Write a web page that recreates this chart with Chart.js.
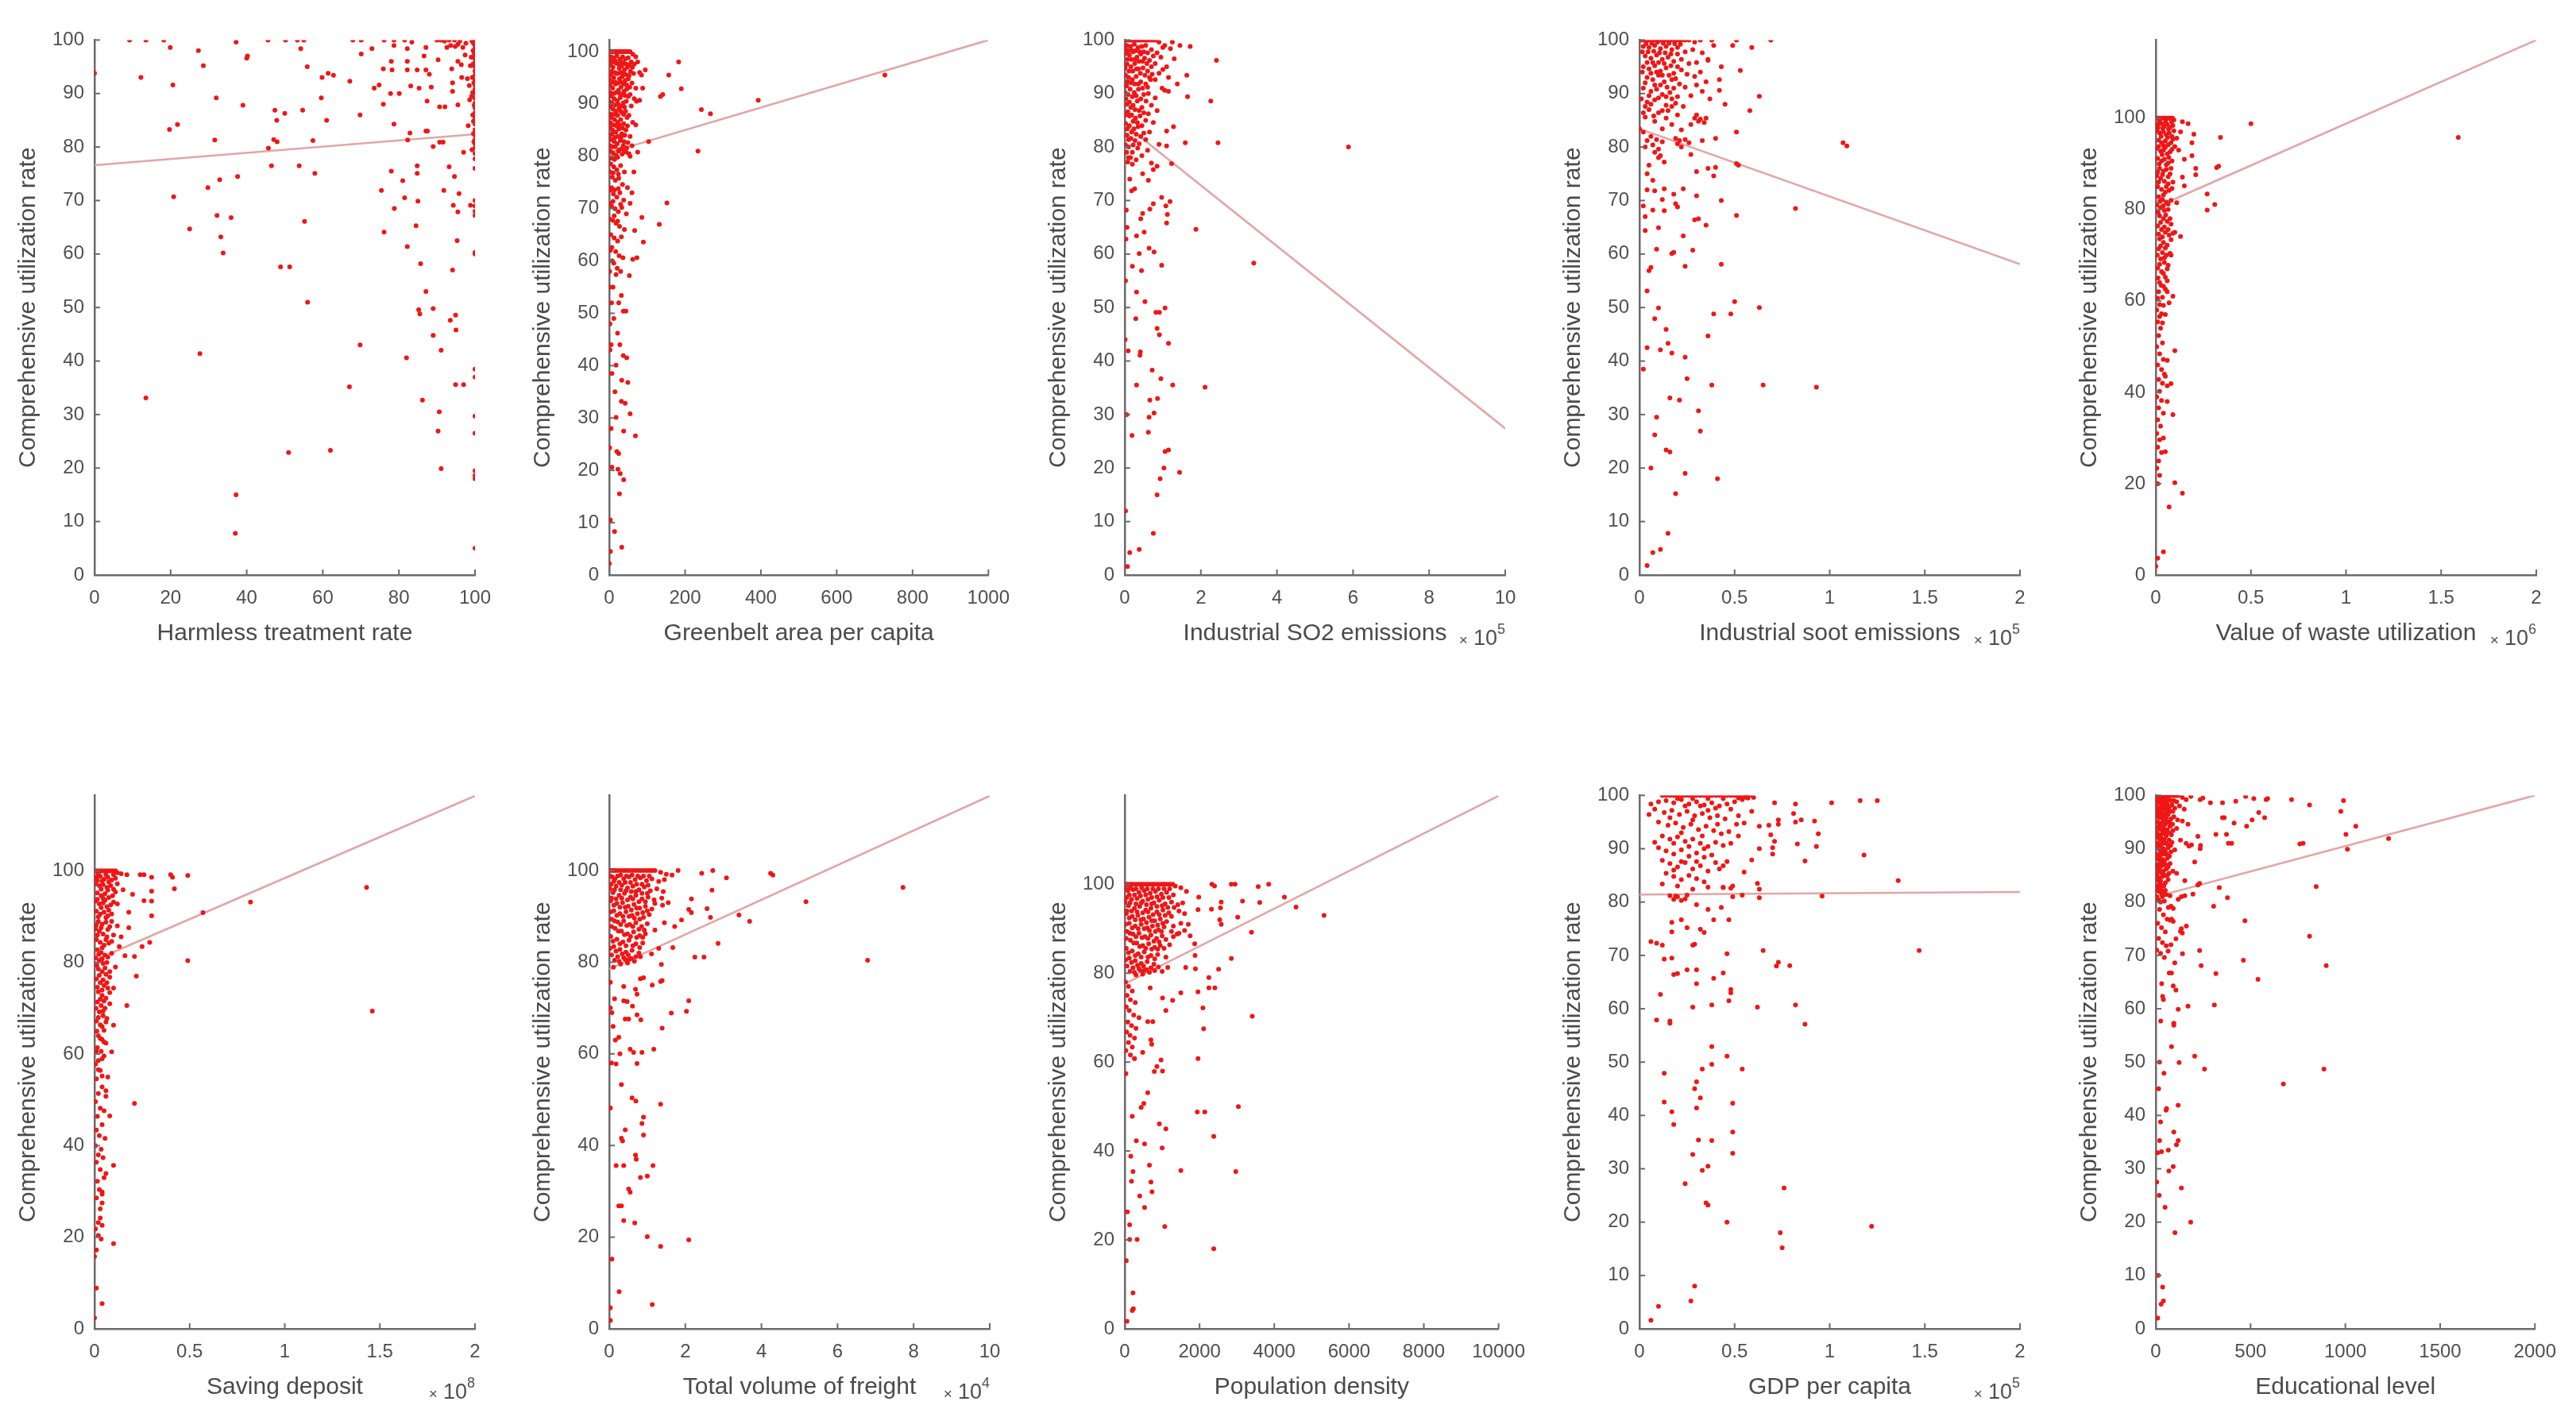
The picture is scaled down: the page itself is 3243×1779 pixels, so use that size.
<!DOCTYPE html>
<html><head><meta charset="utf-8">
<script src="https://cdn.jsdelivr.net/npm/chart.js@4.4.1/dist/chart.umd.min.js"></script>
<style>
html,body{margin:0;padding:0;background:#fff;width:3243px;height:1779px;overflow:hidden;}
canvas{position:absolute;filter:blur(0.7px);}
</style></head><body>
<script>
// ---------------- DATA ----------------
const yLabel = 'Comprehensive utilization rate';
const xTitles = ['Harmless treatment rate','Greenbelt area per capita','Industrial SO2 emissions','Industrial soot emissions','Value of waste utilization','Saving deposit','Total volume of freight','Population density','GDP per capita','Educational level'];
const xExponents = [null,null,'5','5','6','8','4',null,'5',null];
const xMaxes = [100,1000,10,2,2,2,10,10000,2,2000];
const yMaxes = [100,102.2,100,100,117.1,116.5,116.4,120,100,100];
const xTicksList = [
  [0,20,40,60,80,100],[0,200,400,600,800,1000],[0,2,4,6,8,10],[0,0.5,1,1.5,2],[0,0.5,1,1.5,2],
  [0,0.5,1,1.5,2],[0,2,4,6,8,10],[0,2000,4000,6000,8000,10000],[0,0.5,1,1.5,2],[0,500,1000,1500,2000]];
const yTicks10 = [0,10,20,30,40,50,60,70,80,90,100];
const yTicks20 = [0,20,40,60,80,100];
const yTicksList = [yTicks10,yTicks10,yTicks10,yTicks10,yTicks20,yTicks20,yTicks20,yTicks20,yTicks10,yTicks10];

// regression lines (endpoints of the fitted line)
const fitHarmless = [[0,76.6],[100,82.4]];
const fitGreenbelt = [[0,80.7],[1000,102.2]];
const fitSO2 = [[0,84.2],[10,27.4]];
const fitSoot = [[0,83.4],[2,58.1]];
const fitWaste = [[0,80.5],[2,117.1]];
const fitSaving = [[0,80.5],[2,116.4]];
const fitFreight = [[0,78.5],[10,116.3]];
const fitDensity = [[0,77.6],[10000,119.9]];
const fitGDP = [[0,81.4],[2,81.9]];
const fitEdu = [[0,81],[2000,100]];

const ptsHarmless = [[0,93.8],[9.2,100],[13.5,100],[12.2,93],[18.2,100],[19.9,98.6],[20.6,91.6],[19.7,83.3],[21.8,84.2],[20.8,70.7],[27.3,98],[28.6,95.2],[25,64.7],[27.7,41.4],[29.8,72.4],[31.6,81.3],[32,89.2],[32.2,67.2],[32.9,73.9],[33.2,63.2],[33.8,60.2],[35.9,66.8],[13.5,33.1],[37.2,99.6],[40.2,97],[40,96.6],[39,87.8],[37.6,74.5],[37.2,15],[37,7.8],[45.6,100],[50.2,100],[53.3,100],[55,100],[54.2,98.4],[55.9,95],[47.4,86.9],[50,86.3],[54.7,86.9],[47.9,85],[47.1,81.4],[48,81],[45.7,79.8],[46.5,76.5],[53.8,76.5],[57.4,81.2],[57.9,75.1],[55.2,66.1],[48.9,57.6],[51.3,57.6],[56,51],[51,22.9],[62,23.3],[59.6,89.2],[59.8,93],[61.4,93.8],[62.8,93.4],[61,85],[67.1,92.3],[67.9,100],[70.1,100],[70.1,97.4],[69.8,86],[72.9,98.4],[67,35.2],[69.8,43],[73.5,91],[74.8,91.6],[75.9,94.6],[75.9,88],[76.1,100],[75.4,71.9],[76.1,64.1],[78,96],[78.2,94.4],[77.8,90],[78.7,100],[78.7,99],[78.7,84.3],[78,75.5],[78.8,68.5],[80.1,90],[81.5,100],[82.2,98.4],[82.2,96],[82.2,94.4],[83.1,91.4],[82.9,82.6],[82.3,81.3],[81,73.7],[81.5,70.5],[82.2,61.4],[82,40.6],[83.4,99.6],[84.8,94.4],[85.3,91],[84.8,76.5],[84.8,75.1],[85,69.9],[84.5,65.3],[85.7,58.2],[85.2,49.6],[85.5,48.8],[86.2,32.7],[86.6,97],[87.1,98.6],[87.1,94.4],[87.4,88.6],[87.1,83],[87.5,83],[88,93.6],[88.5,91.2],[87.1,53],[89,49.8],[89,44.8],[89,80.1],[90,100],[91,100],[92,99.8],[93.2,100],[94.6,100],[90.3,96.3],[90.7,87.5],[92.1,87.5],[90.7,80.9],[91.6,80.9],[90.3,26.9],[90.6,30.5],[91.1,19.9],[91.1,42],[91.8,71.9],[93.2,76.3],[93.5,47.6],[94.1,57],[93.9,94.6],[94.1,92],[94.1,90.4],[94.3,69.1],[94.6,74.5],[94.9,48.6],[95,45.8],[94.9,35.6],[95.5,99.2],[95.5,96],[95.5,87.9],[95.5,67.9],[95.3,62.5],[95.8,71.3],[97,35.6],[96.5,93],[97.4,97.2],[97,79],[98.8,95.2],[98.8,69.1],
[100,100],[100,99.5],[100,99],[100,98.4],[100,97.8],[100,97.2],[100,96.5],[100,95.8],[100,95],[100,94.2],[100,93.4],[100,92.5],[100,91.6],[100,90.8],[100,90],[100,89.1],[100,88.2],[100,87.3],[100,86.4],[100,85.4],[100,84.3],[100,83.2],[100,82.2],[100,81.4],[100,80.6],[100,79.8],[100,78.8],[100,77.8],[100,76],[100,70],[100,69],[100,68],[100,67.2],[100,60.3],[100,60],[100,38.5],[100,37],[100,29.7],[100,26.5],[100,19.5],[100,18.6],[100,18],[100,5],
[99.2,99.8],[99.5,98],[99,96.8],[99.3,93],[98.5,91.5],[99.1,89.5],[98.6,88.8],[99.4,86],[98.2,84],[99.6,82.5],[98,92.8],[96.8,98.6],[97.6,99.4],[96,99.8],[94.8,98.8],[93.6,99],[92.6,98.6],[96.4,95.4],
[99.6,99.4],[99.8,97.5],[99.5,95.5],[99.7,92],[99.4,90.2],[99.8,87.8],[99.6,84.8],[99.7,81],[99.2,79.5]];

const ptsGreenbelt = [[2,100],[8,100],[15,100],[22,100],[30,100],[38,100],[46,100],[55,100],[62,99.5],[70,99],[5,99],[12,98.8],[20,99.2],[28,98.5],[35,99],[42,98.6],[50,98.8],[58,98],[66,97.6],[75,98],[3,97.5],[10,97],[18,97.8],[26,96.8],[33,97.2],[40,96.5],[48,97],[56,96.2],[64,95.8],[80,96],[4,95.5],[12,95],[19,95.8],[27,94.8],[34,95.2],[42,94.5],[50,94.8],[60,94],[70,93],[85,95.5],[2,93.5],[9,93],[16,93.8],[24,92.6],[31,93.2],[39,92.4],[46,92.8],[55,91.8],[66,91],[5,91.5],[13,91],[21,90.6],[29,91.2],[37,90.2],[45,90.5],[58,89.6],[72,90.5],[3,89.5],[10,89],[18,88.6],[26,89.2],[34,88.3],[43,88.6],[52,87.8],[6,87.4],[14,87],[22,86.5],[30,87],[38,86.2],[48,85.8],[62,86.5],[2,85.5],[9,85],[17,84.6],[25,85.2],[33,84.3],[41,84],[55,83.8],[5,83.2],[13,82.8],[21,82.4],[29,83],[37,82],[46,81.6],[52,80.5],[55,80],[3,81],[10,80.6],[18,80.2],[26,81.2],[34,80.4],[44,80.8],
[4,78.5],[12,78],[20,77.4],[30,78.2],[40,77],[8,76],[16,75.4],[25,75.8],[35,74.6],[48,74],[3,73.5],[11,72.8],[20,72.2],[28,73],[38,71.6],[6,70.5],[15,70],[24,69.4],[33,70.2],[45,69],[9,67.8],[18,67.2],[27,66.6],[40,66],[4,65],[13,64.4],[22,63.8],[32,64.6],[7,62.6],[17,61.8],[26,61],[36,60.6],[12,59.6],[21,58.6],[30,58],[18,57.4],
[183,98],[157,95.5],[190,92.9],[135,91.4],[141,91.8],[243,88.9],[267,88.1],[393,90.7],[727,95.5],[234,81],[104,82.8],[152,71.1],[132,67],[86,68.3],[90,63.6],[67,65.8],[73,60.6],[62,60.3],[53,57.2],[95,96.5],[88,93],[80,90.7],[70,86],[75,80.8],[60,82],[65,77],[55,71],[60,73],
[32,53.4],[37,50.4],[44,50.4],[22,46.2],[37,41.9],[46,41.5],[18,40.1],[7,38.5],[33,37.2],[49,36.8],[32,33.2],[42,32.8],[55,30.8],[18,30.1],[38,27.5],[69,26.6],[20,23.6],[25,23.2],[23,20.2],[29,19.4],[38,18.2],[27,15.5],[3,10.5],[14,8.3],[33,5.3],[3,4.5],[0,2.2],[1,24.3],[7,20.6],[2,48],[5,44],[10,55],[2,43],[12,49],[25,52],[15,35],[28,44],[5,28]];
const denseGreenbelt = [[6,100],[12,100],[18,100],[26,100],[34,100],[42,100],[50,100],[1,98.5],[8,98],[16,98.2],[24,97.6],[31,98],[38,97.8],[45,97.6],[53,97.4],[61,97],[7,96.2],[14,96],[22,95.8],[30,96],[37,95.8],[44,95.6],[52,95.4],[1,94.6],[8,94.2],[15,94.2],[23,94],[30,94.2],[38,93.8],[46,93.6],[54,93.2],[1,92.2],[6,92],[12,92],[19,92.2],[27,92],[35,91.8],[42,91.6],[50,91.4],[1,90.4],[7,90.2],[15,89.8],[23,90],[31,89.6],[40,89.4],[1,88],[7,88],[15,88],[22,87.8],[30,88.6],[38,88],[47,87.4],[3,86.4],[11,86],[19,85.8],[27,86],[35,85.4],[44,85],[1,84],[7,84.2],[15,83.6],[23,83.8],[31,83.6],[39,82.8],[2,82],[8,81.8],[16,81.8],[24,81],[32,81.4],[40,81],[49,82.6],[6,79.6],[14,79.4],[22,79.8],[2,77],[10,76.8],[24,76.6],[6,74],[14,73.6],[24,73.8],[2,71],[10,71.4],[30,70.8],[1,68],[13,68.6],[22,67.6],[3,62],[1,58],[8,60],[2,55],[6,52]];

const ptsSO2 = [[0.02,100],[0.1,100],[0.2,100],[0.3,100],[0.4,100],[0.5,100],[0.6,100],[0.75,100],[0.9,99.6],[1.05,99],[0.05,99],[0.15,98.8],[0.25,99.2],[0.35,98.6],[0.45,98.8],[0.55,99],[0.7,98.2],[0.85,97.6],[1.0,98.6],[0.03,97.5],[0.12,97.2],[0.22,97.8],[0.32,96.8],[0.42,97.4],[0.52,96.6],[0.65,96.2],[0.8,95.6],[0.95,96.8],[1.1,95],[0.06,95.5],[0.16,95],[0.26,95.6],[0.36,94.6],[0.48,94.8],[0.6,94.2],[0.72,93.6],[0.9,93.8],[1.0,94.5],[0.02,93.4],[0.1,93],[0.2,92.6],[0.3,93.2],[0.42,92.2],[0.55,91.8],[0.68,92.6],[1.05,90.6],[1.15,90.4],[0.05,91.4],[0.14,90.8],[0.25,90.2],[0.36,90.8],[0.5,89.8],[0.62,90],[0.8,89.2],[0.03,89],[0.12,88.4],[0.22,87.8],[0.33,88.6],[0.45,87.4],[0.7,87.8],[0.85,86.8],[0.08,86.6],[0.18,86],[0.28,85.4],[0.4,85.8],[0.55,85],[0.75,84.6],[0.02,84.4],[0.12,84],[0.24,83.4],[0.35,83.8],[0.5,82.6],[0.65,82.8],[0.06,82.2],[0.16,81.6],[0.27,81.2],[0.38,80.6],[0.55,81.4],[0.9,80.5],[0.02,80.4],[0.1,80],[0.2,79],[0.45,78.4],[0.3,77.6],[0.6,79.4],[0.08,77.2],[0.7,77],
[1.45,99],[1.72,98.8],[2.41,96.2],[1.63,93.4],[1.38,91.8],[1.65,89.4],[2.26,88.6],[1.59,80.8],[2.45,80.8],[5.88,80],[1.28,83.8],[1.1,83],[1.1,80.2],[1.23,76.9],[1.87,64.6],[3.39,58.3],[2.11,35.1],[1.44,19.2],[1.06,23.1],[1.15,23.4],[1.03,20],[0.93,18],[0.85,15],[0.75,7.8],[0.38,4.8],[0.13,4.2],[0.07,1.6],[0.19,26.1],[0.62,26.7],[0.64,29.5],[0.77,30.3],[0.66,32.7],[0.86,33],[0.72,38.3],[0.95,36.7],[1.26,35.5],[0.31,35.5],[0.4,41.1],[0.41,41.7],[0.09,41.9],[1.15,43.3],[0.91,44.9],[0.85,46.1],[0.29,47.9],[0.82,49.1],[0.91,49.1],[1.06,49.9],[0.53,51.1],[0.31,52.9],[0.97,57.9],[0.2,57.7],[0.44,56.9],[0.38,60.1],[0.64,61.1],[0.77,60.4],[0.51,64.1],[0.03,62.8],[0.31,63.4],[0.42,66.6],[0.47,67.6],[0.66,68.4],[0.75,69.4],[1.12,67.4],[1.1,65.8],[1.08,69],[1.19,69.8],[0.97,70.6],[0.18,71.8],[0.26,72.2],[0.13,74],[0.62,73.8],[0.47,75],[0.75,75.8],[0.85,76.4],[0.04,68.2],[0.06,65],[0.1,78],[0.2,76.8],[1.3,96.5],[1.2,98.4],[1.15,93],[0.98,91],[1.25,99.6],[0.02,55],[0.01,44],[0.05,30],[0.02,12]];
const denseSO2 = [[0.07,100],[0.15,100],[0.25,100],[0.35,100],[0.45,100],[0.55,100],[0.68,100],[0.82,100],[0.01,98.4],[0.09,98],[0.19,98],[0.29,98],[0.39,97.8],[0.5,97.8],[0.6,97.6],[0.75,97],[0.07,96.4],[0.17,96.4],[0.27,96.4],[0.37,96],[0.47,96],[0.58,95.6],[0.7,95],[0.01,94.8],[0.11,94.2],[0.21,94.2],[0.31,94.6],[0.41,93.8],[0.53,93.4],[0.65,93],[0.8,92.6],[0.07,92.2],[0.16,92],[0.26,91.8],[0.36,91.8],[0.47,91],[0.6,91.2],[0.01,90.2],[0.09,89.8],[0.2,89.4],[0.3,89.6],[0.42,89],[0.56,88.6],[0.06,88],[0.16,87.4],[0.27,87],[0.38,86.8],[0.5,86.4],[0.62,86.2],[0.01,86],[0.12,85.8],[0.22,84.8],[0.33,84.6],[0.45,84],[0.06,83.4],[0.18,82.8],[0.3,82.4],[0.42,82],[0.1,81.4],[0.22,80.4],[0.34,79.8],[0.05,79],[0.15,78]];

const ptsSoot = [[0.01,100],[0.04,100],[0.07,100],[0.1,100],[0.13,100],[0.16,100],[0.19,100],[0.22,100],[0.26,100],[0.29,99.6],[0.02,98.8],[0.05,98.6],[0.08,99],[0.11,98.4],[0.14,98.8],[0.17,98.2],[0.2,98.6],[0.24,97.8],[0.28,98.2],[0.33,97.6],[0.03,97],[0.06,96.6],[0.09,97.2],[0.12,96.4],[0.15,96.8],[0.18,96],[0.22,96.4],[0.26,95.6],[0.3,95.8],[0.36,96.4],[0.02,95],[0.05,94.6],[0.08,95.2],[0.11,94.2],[0.14,94.8],[0.18,93.8],[0.22,94.4],[0.25,93.6],[0.29,93.2],[0.32,94],[0.04,93],[0.07,92.6],[0.1,93.4],[0.13,92.2],[0.17,92.6],[0.21,91.8],[0.24,91.2],[0.3,91.6],[0.35,92.2],[0.02,91],[0.06,90.4],[0.09,90.8],[0.12,89.8],[0.16,90.2],[0.2,89.4],[0.27,89.6],[0.33,90.4],[0.37,89],[0.01,89],[0.04,88.4],[0.08,88.8],[0.14,87.8],[0.19,88.2],[0.23,87.6],[0.05,87],[0.1,86.4],[0.15,86.8],[0.2,86],[0.29,85.4],[0.3,86],[0.31,84.8],[0.32,85.2],[0.34,84.6],[0.35,85.4],[0.27,84.2],[0.03,85.6],[0.08,84.8],[0.12,83.4],[0.17,84.2],[0.22,83.2],[0.02,82.8],[0.06,82],[0.09,81.4],[0.04,81.2],[0.12,81],[0.19,81.6],[0.2,80.6],[0.21,81.2],[0.22,80],[0.24,81.4],[0.26,80.8],[0.07,80.4],[0.1,79.6],[0.03,80],[0.11,78.4],[0.13,77.2],[0.05,76.6],
[0.69,100],[0.59,98.6],[0.49,99],[0.51,100],[0.32,100],[0.38,100],[0.39,99],[0.53,94.3],[0.43,95],[0.36,96.2],[0.63,89.5],[0.42,90.6],[0.58,86.8],[0.51,82.8],[0.4,81.6],[0.33,81.2],[1.07,80.8],[1.09,80.2],[0.52,76.6],[0.51,76.9],[0.4,76.2],[0.36,76],[0.39,74.6],[0.43,70],[0.51,67.2],[0.82,68.5],[0.3,70.9],[0.29,66.4],[0.31,66.6],[0.35,65.4],[0.28,60.7],[0.43,58.1],[0.24,57.7],[0.23,63.4],[0.17,60.1],[0.18,60.3],[0.09,60.9],[0.06,57.5],[0.05,56.9],[0.04,53.1],[0.5,51.1],[0.63,50],[0.48,48.8],[0.39,48.8],[0.1,49.9],[0.08,47.9],[0.14,45.9],[0.36,44.7],[0.15,43.3],[0.04,42.5],[0.11,42.1],[0.17,41.5],[0.24,40.7],[0.02,38.5],[0.25,36.7],[0.38,35.5],[0.65,35.5],[0.93,35.1],[0.16,33.1],[0.21,32.7],[0.31,30.7],[0.09,29.5],[0.32,26.9],[0.08,26.2],[0.14,23.4],[0.16,23],[0.06,20],[0.24,19],[0.41,18],[0.19,15.2],[0.15,7.8],[0.11,4.8],[0.07,4.2],[0.04,1.8],[0,83.4],[0.13,72.2],[0.08,71.8],[0.12,70.2],[0.13,68.1],[0.18,71.2],[0.19,69.4],[0.07,68.2],[0.02,69],[0.03,67],[0.1,64.9],[0.03,64.4],[0.04,72],[0.08,79],[0.1,78],[0.04,75],[0.07,73.8],[0.23,72.2],[0.2,68.8],[0.42,92.6],[0.45,88],[0.27,78.6],[0.3,75.4]];
const denseSoot = [[0.025,100],[0.055,100],[0.085,100],[0.115,100],[0.145,100],[0.175,100],[0.205,100],[0.24,100],[0.035,99.3],[0.065,99.4],[0.095,99.6],[0.125,99.4],[0.155,99.4],[0.185,99.3],[0.215,99.2],[0.015,97.8],[0.045,97.8],[0.075,97.9],[0.105,97.6],[0.135,97.6],[0.165,97.4],[0.2,97.4],[0.04,95.8],[0.07,95.8],[0.1,95.8],[0.13,95.6],[0.165,95.2],[0.2,95],[0.015,94],[0.06,93.8],[0.09,94],[0.12,93.4],[0.155,93.4],[0.19,92.8],[0.03,92],[0.08,91.6],[0.11,91.6],[0.145,91.2],[0.18,91],[0.05,89.6],[0.1,89.2],[0.14,89.4],[0.17,89],[0.03,87.6],[0.06,88],[0.12,86.8],[0.17,87.6],[0.02,86.4],[0.075,85.8],[0.14,85.4]];

const ptsWaste = [[0.005,100],[0.02,100],[0.035,100],[0.05,100],[0.065,100],[0.08,100],[0.095,99.6],[0.01,98.6],[0.03,98.8],[0.045,98.2],[0.06,98.6],[0.075,98],[0.09,98.4],[0.005,97.2],[0.02,96.8],[0.04,97],[0.055,96.4],[0.07,96.8],[0.085,96],[0.015,95.2],[0.03,94.6],[0.05,95],[0.065,94.2],[0.08,94.6],[0.1,93.8],[0.005,93.4],[0.025,92.8],[0.04,93],[0.06,92.2],[0.075,92.6],[0.01,91.2],[0.03,90.6],[0.045,91],[0.065,90.2],[0.085,90.6],[0.02,89],[0.04,88.4],[0.055,88.8],[0.075,87.8],[0.005,87.4],[0.025,86.8],[0.045,86.2],[0.065,85.6],[0.09,86],[0.01,85],[0.03,84.4],[0.05,83.8],[0.07,84.2],[0.015,82.8],[0.035,82.2],[0.055,81.6],[0.08,82],[0.005,81],[0.025,80.4],[0.045,79.8],[0.065,80],[0.02,78.6],[0.04,78],[0.06,77.4],[0.08,76.8],[0.01,76.4],[0.03,75.6],[0.05,75],[0.07,74.4],[0.09,74.8],[0.02,73.6],[0.04,72.8],[0.06,72.2],[0.015,71.4],[0.035,70.6],[0.055,70],[0.075,70.4],[0.025,69.2],[0.045,68.4],[0.065,67.8],[0.01,67.2],[0.03,66.4],[0.05,65.2],[0.02,64],[0.04,63.2],[0.06,64.4],[0.015,62],[0.035,60.8],[0.02,59.2],[0.005,58],[0.03,57.2],[0.01,55.4],[0.025,54],[0.015,52.4],[0.035,50.8],[0.005,50],[0.02,48.4],[0.04,47.2],[0.01,46],[0.03,45],[0.045,44],[0.015,42.8],[0.035,42],[0.06,41.4],[0.02,40.2],[0.005,39],[0.03,38.2],[0.015,36.6],[0.04,35.4],[0.01,34],[0.025,32.6],[0.005,31],[0.02,29.6],[0.01,28],[0.03,26.8],[0.015,25],[0.005,23.4],[0.02,21.8],[0.01,20],
[0.5,98.8],[1.59,95.8],[0.34,95.8],[0.32,89.2],[0.33,89.5],[0.27,83.4],[0.31,81.1],[0.27,79.9],[0.14,99.2],[0.17,98.8],[0.2,96.5],[0.19,94.6],[0.19,91.8],[0.21,89],[0.21,87.6],[0.14,87.1],[0.15,85.2],[0.11,81.5],[0.13,74.1],[0.1,75],[0.09,61],[0.07,59.6],[0.1,49.1],[0.08,41.9],[0.09,35.1],[0.1,20.2],[0.14,17.9],[0.07,14.9],[0.04,5.1],[0,1.9],[0.01,3.7],[0.12,93],[0.15,91],[0.13,97],[0.11,95.6],[0.08,70],[0.06,62],[0.05,57],[0.06,47],[0.05,43.5],[0.06,38],[0.04,30],[0.05,27]];
const denseWaste = [[0.012,100],[0.028,100],[0.043,100],[0.058,100],[0.073,100],[0.088,100],[0.02,99.3],[0.052,99.2],[0.083,99.2],[0.012,97.9],[0.037,97.8],[0.067,97.6],[0.095,97.2],[0.028,96],[0.062,95.8],[0.04,94],[0.09,95.4],[0.015,93.8],[0.05,93.6],[0.085,93.2],[0.033,92],[0.068,91.4],[0.018,90],[0.055,89.8],[0.08,89],[0.01,88.2],[0.035,87.6],[0.065,87.2],[0.015,86],[0.055,85],[0.085,84.6],[0.04,83.2],[0.022,81.8],[0.065,81.2],[0.04,80.8],[0.012,79.4],[0.052,78.8],[0.075,78],[0.025,77.2],[0.045,76.2],[0.065,75.6],[0.015,74.6],[0.035,74],[0.08,73.4],[0.025,72],[0.05,71.6],[0.008,70],[0.045,69.4],[0.02,68],[0.06,67],[0.04,66],[0.012,65],[0.028,63.4],[0.05,62.6],[0.01,60.6],[0.04,59],[0.02,56.6],[0.035,55.2]];

const ptsSaving = [[0.005,100],[0.02,100],[0.04,100],[0.06,100],[0.08,100],[0.1,100],[0.12,99.6],[0.14,99.4],[0.01,98.6],[0.03,98.8],[0.05,98.2],[0.07,98.6],[0.09,98],[0.11,98.4],[0.005,97.2],[0.025,96.8],[0.045,97],[0.065,96.4],[0.085,96.8],[0.1,96],[0.015,95.2],[0.035,94.6],[0.055,95],[0.075,94.2],[0.095,94.6],[0.005,93.4],[0.025,92.8],[0.045,93],[0.065,92.2],[0.085,92.6],[0.12,92.8],[0.01,91.2],[0.03,90.6],[0.05,91],[0.07,90.2],[0.09,90.6],[0.02,89],[0.04,88.4],[0.06,88.8],[0.08,87.8],[0.005,87.4],[0.025,86.8],[0.045,86.2],[0.065,85.6],[0.1,86],[0.01,85],[0.03,84.4],[0.05,83.8],[0.075,84.2],[0.015,82.8],[0.035,82.2],[0.055,81.6],[0.09,82],[0.005,81],[0.025,80.4],[0.045,79.8],[0.065,80],[0.02,78.6],[0.04,78],[0.06,77.4],[0.08,76.8],[0.01,76.4],[0.03,75.6],[0.05,75],[0.07,74.4],[0.02,73.6],[0.04,72.8],[0.06,72.2],[0.015,71.4],[0.035,70.6],[0.055,70],[0.025,69.2],[0.045,68.4],[0.065,67.8],[0.01,67.2],[0.03,66.4],[0.05,65.2],[0.02,64],[0.04,63.2],[0.06,62.4],[0.015,61.4],[0.035,60.6],[0.05,59.6],[0.02,58.6],[0.005,57.8],[0.03,56.4],[0.01,54.6],[0.04,52.8],[0.02,51.4],[0.06,50.8],[0.005,49.6],[0.03,48.2],[0.05,47.6],[0.015,46.4],[0.04,44.6],[0.01,43.4],[0.025,42.2],[0.055,41.6],[0.005,40],[0.035,39.2],[0.02,38],[0.01,36.4],[0.045,37.4],[0.03,34.8],[0.05,33],[0.015,32.2],[0.025,30.4],[0.04,29.4],[0.01,28.6],[0.03,26.2],[0.02,23.2],[0.04,22.6],[0.005,21.8],[0.035,19.6],[0.01,17.2],
[1.43,96.4],[1.46,69.4],[0.82,93.2],[0.57,90.9],[0.49,99],[0.49,80.4],[0.41,98.6],[0.4,99.2],[0.42,96.1],[0.3,98.6],[0.26,99.2],[0.24,99.2],[0.3,95.6],[0.3,93.4],[0.26,93.5],[0.3,90.2],[0.29,84.4],[0.25,83.5],[0.21,81.3],[0.16,81.5],[0.22,77],[0.13,83.5],[0.17,99.2],[0.18,87.6],[0.18,91],[0.2,94.9],[0.15,95.9],[0.17,70.6],[0.1,66.3],[0.1,74.4],[0.21,49.2],[0.1,35.7],[0.1,18.6],[0.08,46.5],[0.06,33.9],[0.04,29.9],[0.04,27.5],[0.03,24.2],[0.02,20.4],[0,15.8],[0.01,8.9],[0.04,5.5],[0,2.4],[0.12,88],[0.14,85.6],[0.11,79],[0.08,71],[0.09,60.5],[0.07,55],[0.06,52]];
const denseSaving = [[0.015,100],[0.03,100],[0.05,100],[0.07,100],[0.09,100],[0.11,100],[0.02,99.3],[0.06,99.2],[0.1,99.2],[0.015,97.9],[0.04,97.8],[0.075,97.6],[0.12,97.2],[0.035,96],[0.07,95.8],[0.045,94],[0.11,95.4],[0.015,93.8],[0.055,93.6],[0.1,93.2],[0.035,92],[0.075,91.4],[0.02,90],[0.06,89.8],[0.09,89],[0.01,88.2],[0.035,87.6],[0.07,87.2],[0.015,86],[0.06,85],[0.09,84.6],[0.04,83.2],[0.022,81.8],[0.07,81.2],[0.04,80.8],[0.012,79.4],[0.055,78.8],[0.08,78],[0.025,77.2],[0.045,76.2],[0.065,75.6],[0.015,74.6],[0.04,74],[0.08,73.4],[0.03,72],[0.05,71.6],[0.008,70],[0.045,69.4],[0.02,68],[0.06,67],[0.04,66],[0.012,65],[0.03,63.4],[0.05,62.6],[0.01,60.6],[0.04,59],[0.02,56.6],[0.04,55.2]];

const ptsFreight = [[0.03,100],[0.15,100],[0.3,100],[0.45,100],[0.6,100],[0.75,100],[0.9,100],[1.05,100],[1.2,100],[1.35,99.6],[1.5,99.2],[1.65,99],[0.08,98.6],[0.22,98.8],[0.38,98.2],[0.52,98.6],[0.68,98],[0.82,98.4],[0.98,97.8],[1.12,98.2],[1.3,97.6],[1.45,98],[0.05,97],[0.18,96.6],[0.33,96.8],[0.48,96.2],[0.62,96.6],[0.78,95.8],[0.92,96.4],[1.08,95.6],[1.25,96],[1.42,95.4],[0.1,95.2],[0.26,94.6],[0.4,95],[0.56,94.2],[0.7,94.6],[0.86,93.8],[1.02,94.2],[1.18,93.6],[1.38,94],[0.04,93.4],[0.2,92.8],[0.35,93],[0.5,92.2],[0.65,92.6],[0.8,91.8],[0.95,92.2],[1.12,91.6],[1.4,92.4],[0.12,91.2],[0.28,90.6],[0.44,91],[0.6,90.2],[0.74,90.6],[0.9,89.8],[1.05,90.4],[0.06,89.4],[0.22,88.8],[0.38,89],[0.54,88.2],[0.7,88.6],[0.85,87.8],[1.0,88.4],[0.15,87.4],[0.32,86.8],[0.48,86.2],[0.64,86.6],[0.8,85.8],[0.95,86.2],[0.04,85.6],[0.2,85],[0.36,84.4],[0.52,84.8],[0.7,84],[0.88,84.2],[0.12,83.4],[0.28,82.8],[0.44,82.2],[0.6,82.6],[0.78,82],[0.06,81.6],[0.22,81.2],[0.38,81],[0.52,80.6],[0.66,80.2],[0.14,80.4],[0.3,79.6],[0.48,79.8],
[7.72,96.3],[6.79,80.4],[5.17,93.2],[4.24,99.4],[4.3,99],[3.69,88.9],[3.41,90.3],[3.08,98.4],[2.72,100],[2.43,99.4],[2.7,95.7],[2.57,91.7],[2.66,89.8],[2.86,84.1],[2.25,81.1],[2.49,81.1],[2.16,93.8],[2.09,91.5],[2.16,90.8],[1.9,89.2],[1.81,100],[1.72,87.8],[1.67,83.2],[2.09,71.6],[2.03,69.3],[1.63,68.9],[1.39,65.6],[1.17,61],[1.35,49],[2.09,19.4],[1.35,18],[1,20.1],[1.13,5.3],[0.26,8.1],[0.07,15.2],[0.03,4.6],[0.03,1.8],[1.15,35.6],[1,33.3],[0.82,33],[0.67,23.1],[0.38,23.6],[0.25,26.8],[0.32,26.8],[0.51,30.5],[0.55,29.8],[0.38,35.6],[0.18,35.6],[0.69,37.9],[0.71,37],[0.9,42.3],[0.86,44.8],[0.9,46.2],[0.42,43.4],[0.32,41.6],[0.35,41],[0.03,48.2],[0.6,50.4],[0.7,49.7],[0.32,53.3],[0.18,57.8],[0.73,57.9],[0.55,61],[0.64,60.3],[0.86,60.3],[0.16,63],[0.25,63.6],[0.42,67.6],[0.51,67.6],[0.73,68.5],[0.83,67.4],[0.61,70.4],[0.73,73],[0.38,71.6],[0.47,71.4],[0.14,72],[0.69,74.1],[0.38,74.7],[0.9,76.6],[0.82,76.4],[1.13,75],[1.35,75.8],[1.39,76],[1.37,79.5],[1.11,81.8],[0.82,81.2],[0.11,78.9],[0.03,75.6],[0.03,70],[0.07,69],[1.2,87],[1.45,88.6],[1.3,83],[1.55,93],[1.2,92.8],[0.1,66],[0.28,60],[0.06,58]];
const denseFreight = [[0.1,100],[0.22,100],[0.38,100],[0.52,100],[0.68,100],[0.82,100],[0.98,100],[1.12,100],[0.02,98.8],[0.15,98.2],[0.3,99],[0.45,98.8],[0.6,99],[0.75,98.8],[0.9,98.8],[1.05,98.8],[0.12,97.6],[0.26,97.4],[0.42,97.4],[0.56,97.4],[0.72,97],[0.86,97],[1.02,96.8],[0.02,96],[0.14,95.8],[0.3,95.8],[0.44,95.6],[0.58,95.4],[0.7,95.4],[0.86,95],[1.0,95],[0.06,94],[0.18,93.8],[0.33,94],[0.48,93.6],[0.62,93.8],[0.78,93.2],[0.95,93.2],[0.12,92.4],[0.28,92],[0.42,92],[0.58,91.4],[0.72,91.8],[0.88,90.8],[1.0,91.2],[0.04,91],[0.2,90.2],[0.36,90],[0.52,90],[0.66,89.6],[0.8,89.4],[0.14,89],[0.3,88.2],[0.46,88],[0.62,87.8],[0.78,87.2],[0.92,87],[0.06,87.8],[0.24,86.8],[0.4,86],[0.56,85.6],[0.72,85.4],[0.88,85.4],[0.1,84.6],[0.28,84],[0.44,83.6],[0.62,83.6],[0.8,83.2],[0.02,83],[0.18,82.4],[0.34,81.8],[0.5,81.6],[0.7,81.2],[0.26,80.2],[0.42,80.6],[0.58,80.8]];

const ptsDensity = [[30,100],[150,100],[300,100],[450,100],[600,100],[750,100],[900,100],[1050,100],[1200,100],[1350,99.6],[1500,99.2],[80,98.6],[220,98.8],[380,98.2],[520,98.6],[680,98],[820,98.4],[980,97.8],[1120,98.2],[1300,97.6],[1650,98.4],[50,97],[180,96.6],[330,96.8],[480,96.2],[620,96.6],[780,95.8],[920,96.4],[1080,95.6],[1250,96],[1420,95.4],[100,95.2],[260,94.6],[400,95],[560,94.2],[700,94.6],[860,93.8],[1020,94.2],[1180,93.6],[1450,94],[40,93.4],[200,92.8],[350,93],[500,92.2],[650,92.6],[800,91.8],[950,92.2],[1120,91.6],[1300,90.6],[1500,91.2],[120,91.2],[280,90.6],[440,91],[600,90.2],[740,90.6],[900,89.8],[1050,90.4],[1250,89.4],[1400,88.8],[1600,89.6],[60,89.4],[220,88.8],[380,89],[540,88.2],[700,88.6],[850,87.8],[1000,88.4],[150,87.4],[320,86.8],[480,86.2],[640,86.6],[800,85.8],[950,86.2],[40,85.6],[200,85],[360,84.4],[520,84.8],[700,84],[880,84.2],[120,83.4],[280,82.8],[440,82.2],[600,82.6],[780,82],[60,81.6],[220,81.2],[380,81],[520,80.6],[660,80.2],[900,81.4],[140,80.4],[300,79.6],[480,79.8],
[20,78],[100,77],[200,76],[60,75],[150,74],[280,73.4],[40,72.4],[120,71.6],[240,70.6],[380,70],[80,69],[180,68.2],[300,67.6],[50,66.8],[140,66],[260,65.4],[100,64.4],[200,63.4],[30,62.6],[150,61.6],[260,60.8],
[5330,93],[4580,94.9],[4270,97.1],[3850,100],[3570,99.5],[3610,95.9],[3390,89.2],[3410,70.3],[3020,92.6],[3150,96.2],[2850,100],[2950,100],[2850,83.3],[3040,50],[2970,35.4],[2580,96],[2560,94.7],[2580,91],[2540,92],[2330,100],[2400,99.6],[2320,94.4],[2510,80.9],[2250,79],[2410,76.7],[2250,76.7],[1980,97.1],[1960,94.3],[2090,72.2],[2110,67.5],[1960,60.8],[1940,48.8],[2140,48.8],[2380,43.3],[2380,18],[1960,75.8],[1890,81],[1880,84],[1870,86.6],[1630,81.3],[1500,75.6],[1500,35.6],[1280,73.9],[1150,81.3],[1100,71.6],[1010,74.4],[1070,23],[1100,45],[925,46.1],[1000,40.7],[970,60.5],[860,59],[1010,58],[790,57.9],[700,65],[720,64],[615,69.1],[750,69.1],[680,76.7],[615,53.1],[510,50.7],[440,49.8],[530,41.6],[310,42.3],[660,36.8],[700,33],[730,30.8],[400,29.9],[530,27.3],[330,20.1],[130,20.1],[130,23.4],[70,26.3],[220,35.4],[180,33.2],[160,38.8],[200,47.8],[40,15.3],[220,8.1],[230,4.5],[200,4.1],[60,1.7],[30,57.4],[260,60.8],[480,62.2],[1700,91],[1750,88.4],[1600,93.4],[1450,89],[1300,88.2],[1550,95.8],[1200,86.4],[1100,83.6]];
const denseDensity = [[80,100],[220,100],[380,100],[520,100],[680,100],[820,100],[980,100],[1120,100],[1280,100],[20,99.2],[150,99.2],[300,99],[450,99.2],[600,99],[750,99],[900,99],[1050,99],[1200,99],[120,97.6],[260,97.6],[420,97.4],[560,97.6],[720,97],[860,97.2],[1020,97],[1180,97],[10,96],[140,95.8],[300,95.6],[440,95.8],[580,95.4],[720,95.6],[860,95],[1000,95.2],[1150,94.8],[1320,94.8],[60,94],[180,94],[330,93.8],[480,93.6],[620,93.8],[760,93.2],[920,93.2],[1080,93],[1250,92.8],[120,92.4],[280,92],[430,92],[580,91.4],[720,91.8],[880,90.8],[1020,91.2],[20,91],[200,90.2],[360,90],[520,90],[660,89.6],[820,89.4],[980,89.4],[140,89],[300,88.2],[460,88],[620,87.8],[780,87.2],[920,87],[1100,87.6],[40,87.8],[240,86.8],[400,86],[560,85.6],[720,85.4],[880,85.4],[1050,85.6],[100,84.6],[280,84],[440,83.6],[620,83.6],[800,83.2],[20,83],[180,82.4],[340,81.8],[500,81.6],[700,81.2],[260,80.2],[420,80.6],[580,80.8],[800,80.6],[1000,80.4]];

const ptsGDP = [[0.12,100],[0.16,100],[0.2,100],[0.24,100],[0.28,100],[0.32,100],[0.36,100],[0.4,100],[0.44,100],[0.48,100],[0.52,100],[0.56,100],[0.6,99.6],[0.1,98.8],[0.14,99],[0.18,98.6],[0.22,99.2],[0.26,98.4],[0.3,98.8],[0.34,98.2],[0.38,98.6],[0.42,98],[0.46,98.4],[0.5,98.8],[0.54,99.2],[0.08,97.4],[0.13,96.8],[0.17,97.2],[0.21,96.4],[0.25,97],[0.29,96.2],[0.33,96.6],[0.37,95.8],[0.41,96.2],[0.45,95.6],[0.52,96.2],[0.1,95],[0.15,94.4],[0.19,94.8],[0.23,94],[0.27,94.6],[0.31,93.6],[0.35,94.2],[0.39,93.4],[0.43,92.8],[0.47,93.2],[0.55,94.8],[0.12,92.4],[0.16,91.8],[0.2,92.2],[0.24,91.4],[0.28,91.8],[0.32,91],[0.36,90.4],[0.4,91.2],[0.44,90.6],[0.48,91],[0.1,90.2],[0.14,89.6],[0.18,89],[0.22,89.8],[0.26,88.6],[0.3,89.2],[0.34,88.4],[0.38,88.8],[0.12,87.8],[0.16,87.2],[0.2,86.6],[0.24,87.4],[0.28,86.2],[0.32,86.8],[0.36,85.8],[0.42,86.2],[0.14,85.4],[0.18,84.8],[0.22,84.2],[0.26,85],[0.3,84.4],[0.34,83.8],[0.12,83.4],[0.2,83],[0.28,82.4],[0.36,82.8],[0.44,82.8],[0.48,82.6],[0.16,81.2],[0.24,80.6],
[1.25,99],[1.16,99],[1.01,98.6],[1.18,88.8],[1.36,84],[1.47,70.9],[1.22,19.2],[0.96,81.1],[0.94,92.8],[0.93,90.4],[0.92,95.2],[0.87,87.7],[0.87,57.1],[0.82,60.7],[0.79,68.1],[0.73,68.7],[0.72,68],[0.74,18],[0.75,15.2],[0.76,26.4],[0.83,90.9],[0.82,95],[0.81,96.6],[0.82,98.4],[0.85,95.4],[0.73,94.6],[0.73,95.4],[0.71,98.6],[0.7,89],[0.7,90.2],[0.71,91.4],[0.69,92.6],[0.68,94.4],[0.65,70.9],[0.63,94.2],[0.63,90],[0.63,80.8],[0.63,82.4],[0.62,83.5],[0.62,60.3],[0.59,97],[0.59,87.9],[0.57,99.5],[0.56,99.6],[0.54,81.3],[0.54,48.7],[0.49,42.3],[0.49,36.9],[0.49,32.9],[0.46,20],[0.48,63.6],[0.48,63],[0.47,61.5],[0.49,81],[0.49,83],[0.47,76.7],[0.46,70.3],[0.44,66.7],[0.46,51.1],[0.43,79],[0.44,86.8],[0.44,82.7],[0.39,76.7],[0.39,65.7],[0.38,60.7],[0.38,49.6],[0.38,52.9],[0.38,35.3],[0.36,30.5],[0.36,23.2],[0.35,23.6],[0.34,74.3],[0.32,74.9],[0.33,48.7],[0.32,43.3],[0.31,35.4],[0.33,29.7],[0.29,45],[0.3,46.3],[0.3,41.4],[0.28,32.7],[0.29,8],[0.27,5.2],[0.25,67.3],[0.3,67.3],[0.28,60.3],[0.28,71.9],[0.29,72.1],[0.3,64.7],[0.24,27.2],[0.25,75.2],[0.22,76.7],[0.18,66.4],[0.2,66.6],[0.17,69.5],[0.13,69.3],[0.12,71.9],[0.09,72.3],[0.06,72.6],[0.11,62.7],[0.09,57.9],[0.16,57.7],[0.16,57.3],[0.13,47.9],[0.13,42.5],[0.17,40.7],[0.18,38.3],[0.1,4.2],[0.06,1.6],[0.17,74.4],[0.17,76.2],[0.18,80.5],[0.19,81.1],[0.2,81],[0.22,80.3],[0.25,81.3],[0.3,79.5],[0.05,96.4],[0.08,91.2],[0.06,98.4],[0.51,94.6],[0.52,92.4],[0.46,87.6],[0.4,87.4],[0.55,85.6],[0.36,78.6]];
const denseGDP = [[0.14,100],[0.18,100],[0.22,100],[0.26,100],[0.3,100],[0.34,100],[0.38,100],[0.42,100],[0.46,100],[0.5,100],[0.54,100],[0.58,100],[0.2,99.4],[0.28,99.4],[0.36,99.4],[0.44,99.4],[0.52,99.5],[0.24,98],[0.32,98],[0.4,97.6],[0.48,97.4],[0.16,95.8],[0.28,95.4],[0.36,97.2],[0.22,93],[0.33,92.4],[0.41,94.6],[0.26,90.4],[0.34,90],[0.18,91],[0.22,87.6],[0.3,87.6],[0.18,86]];

const ptsEdu = [[5,100],[15,100],[25,100],[35,100],[45,100],[55,100],[65,100],[75,100],[90,100],[105,100],[120,100],[140,99.6],[160,99.2],[185,99.8],[10,98.6],[20,98.8],[30,98.2],[40,98.6],[50,98],[60,98.4],[70,97.8],[85,98.2],[100,97.6],[125,98],[150,97.4],[5,97],[15,96.6],[25,96.8],[35,96.2],[45,96.6],[55,95.8],[65,96.4],[80,95.6],[95,96],[115,95.4],[140,95.2],[170,94.6],[10,95],[20,94.4],[30,94.8],[40,94],[50,94.6],[60,93.6],[75,94.2],[90,93.4],[110,93.8],[5,93],[15,92.6],[25,92.2],[35,92.8],[45,91.8],[55,92.4],[70,91.6],[85,91.2],[130,91.6],[160,91],[10,91],[20,90.4],[30,90.8],[40,90],[50,89.6],[65,90.2],[80,89.4],[100,89.8],[5,89],[15,88.4],[25,88.8],[35,88],[45,87.6],[60,88.2],[75,87.2],[10,87],[20,86.4],[30,86.8],[40,85.8],[55,86.2],[70,85.4],[90,85.8],[110,85.4],[5,85.2],[15,84.6],[25,84],[35,84.8],[50,83.6],[65,84.2],[10,83],[20,82.4],[30,81.6],[40,82],[55,81.4],[75,81.2],[5,81],[15,80.4],[25,80],[45,80.2],[20,78.6],[40,77.6],[60,76.8],[10,76],[30,75.2],[50,74.4],[15,73.2],[35,72.4],[55,71.8],[5,71],[25,70.4],[45,69.6],[65,70.8],[80,72],[100,68.6],
[1228,91.9],[1011,89.9],[1003,92.7],[1055,94.2],[990,99],[976,97],[846,82.9],[811,98.2],[811,73.6],[899,68.1],[887,48.7],[673,45.9],[716,99.2],[760,90.9],[777,91],[590,99.4],[582,99.2],[574,95.8],[543,96.8],[517,99.4],[508,95.4],[474,99.8],[479,94.2],[470,76.5],[462,69.1],[539,65.5],[422,98.9],[413,94.8],[400,91],[383,91],[373,92.7],[361,95.8],[352,95.8],[352,98.6],[378,80.8],[335,82.7],[317,66.6],[309,60.7],[305,79.2],[317,92.7],[288,98.6],[248,99.5],[234,99.2],[234,90],[236,90.6],[257,48.7],[239,68.1],[231,70.9],[231,83.5],[222,83.2],[222,92.3],[205,51.1],[205,87.5],[196,81.5],[184,20],[170,60.5],[161,75.5],[175,90.5],[188,90.7],[153,84],[141,70.3],[135,26.4],[130,74.5],[135,75],[140,74.2],[118,59.9],[123,49.9],[118,41.9],[109,34.5],[118,35.3],[101,18],[95,36.9],[92,30.4],[83,52.9],[95,56.9],[95,57.3],[106,63.5],[92,64.3],[83,66.7],[71,66.7],[69,29.6],[66,33.5],[54,41],[57,41.3],[49,22.8],[43,47.9],[36,7.8],[28,4.6],[10,2],[40,61.7],[36,62.3],[26,57.7],[31,64.7],[75,76.6],[83,76.8],[92,76.4],[66,79],[80,79.2],[92,78.8],[118,80.5],[135,81],[153,81.2],[106,73.1],[20,50],[15,45],[25,38.8],[10,33],[20,35.3],[30,33.2],[5,27.5],[12,10],[40,5.2],[18,25]];
const denseEdu = [[10,100],[20,100],[30,100],[40,100],[50,100],[60,100],[70,100],[82,100],[97,100],[112,100],[5,99.2],[15,99.3],[25,99.2],[35,99.3],[45,99.2],[55,99.1],[65,99.2],[80,99],[95,99],[110,98.8],[5,97.8],[15,97.6],[25,97.6],[35,97.4],[45,97.6],[55,97.2],[65,97],[78,97],[90,97],[10,96],[20,95.8],[30,96],[40,95.4],[50,95.4],[60,95],[72,95],[88,94.6],[5,94],[15,93.8],[25,93.6],[35,93.6],[45,93.2],[55,93.2],[68,93],[82,92.6],[10,92.2],[20,91.8],[30,91.6],[40,91.4],[52,91],[62,90.8],[78,90.6],[5,90.4],[15,90],[25,89.6],[35,89.4],[45,89],[58,89],[72,88.6],[10,88.2],[20,87.8],[30,87.4],[40,87],[52,87],[65,86.6],[5,86.4],[15,86],[25,85.6],[35,85.4],[48,85],[60,85],[10,84.2],[20,83.6],[30,83.2],[42,83],[5,82.4],[15,82],[25,82.4],[35,81],[50,82.2]];

const allPoints = [ptsHarmless, ptsGreenbelt.concat(denseGreenbelt), ptsSO2.concat(denseSO2), ptsSoot.concat(denseSoot), ptsWaste.concat(denseWaste),
  ptsSaving.concat(denseSaving), ptsFreight.concat(denseFreight), ptsDensity.concat(denseDensity), ptsGDP.concat(denseGDP), ptsEdu.concat(denseEdu)];
const allFits = [fitHarmless,fitGreenbelt,fitSO2,fitSoot,fitWaste,fitSaving,fitFreight,fitDensity,fitGDP,fitEdu];

// ---------------- LAYOUT / STYLE ----------------
const colLeft = [119, 767, 1416, 2064, 2714];
const rowTop = [43, 994];
const plotW = 479;
const plotH = [681, 679];
const PADL = 130, PADR = 40, PADT = 20, PADB = 130;
const AXIS = '#6b6b6b', TICKTXT = '#4f4f4f', TITLETXT = '#4a4a4a';
const FONT = "'Liberation Sans', Arial, Helvetica, sans-serif";
const DOT = 'rgb(240,22,22)', FITC = '#e2a6a6';
Chart.defaults.font.family = FONT;

const deco = {
  id: 'deco',
  afterDatasetsDraw(chart, args, opts) {
    const ctx = chart.ctx, a = chart.chartArea, xs = chart.scales.x, ys = chart.scales.y;
    ctx.save();
    ctx.strokeStyle = AXIS; ctx.lineWidth = 2;
    xs.ticks.forEach(t => { const p = xs.getPixelForValue(t.value); ctx.beginPath(); ctx.moveTo(p, a.bottom); ctx.lineTo(p, a.bottom - 7); ctx.stroke(); });
    ys.ticks.forEach(t => { const p = ys.getPixelForValue(t.value); ctx.beginPath(); ctx.moveTo(a.left, p); ctx.lineTo(a.left + 7, p); ctx.stroke(); });
    if (opts.exp) {
      ctx.fillStyle = TICKTXT;
      ctx.textBaseline = 'alphabetic';
      ctx.font = '19px ' + FONT; const wx = ctx.measureText('\u00d7').width;
      ctx.font = '27px ' + FONT; const w1 = ctx.measureText('10').width;
      ctx.font = '18px ' + FONT; const w2 = ctx.measureText(opts.exp).width;
      const right = a.right, base = a.bottom + 88;
      let x = right - w2 - w1 - wx - 7;
      ctx.font = '19px ' + FONT; ctx.fillText('\u00d7', x, base); x += wx + 7;
      ctx.font = '27px ' + FONT; ctx.fillText('10', x, base); x += w1;
      ctx.font = '18px ' + FONT; ctx.fillText(opts.exp, x, base - 14);
    }
    ctx.restore();
  }
};

for (let i = 0; i < 10; i++) {
  const r = Math.floor(i / 5), c = i % 5;
  const cv = document.createElement('canvas');
  const W = PADL + plotW + PADR, H = PADT + plotH[r] + PADB;
  cv.width = W; cv.height = H;
  cv.style.left = (colLeft[c] - PADL) + 'px';
  cv.style.top = (rowTop[r] - PADT) + 'px';
  cv.style.width = W + 'px'; cv.style.height = H + 'px';
  document.body.appendChild(cv);
  const xt = xTicksList[i], yt = yTicksList[i];
  new Chart(cv, {
    type: 'scatter',
    data: {
      datasets: [
        { data: allPoints[i].map(p => ({x: p[0], y: p[1]})), backgroundColor: DOT, borderWidth: 0, pointRadius: 3, pointHoverRadius: 3 },
        { type: 'line', data: allFits[i].map(p => ({x: p[0], y: p[1]})), borderColor: FITC, borderWidth: 2.6, pointRadius: 0, fill: false, tension: 0 }
      ]
    },
    options: {
      responsive: false, animation: false, devicePixelRatio: 1,
      layout: { padding: { left: 0, right: PADR, top: PADT, bottom: 0 } },
      plugins: { legend: { display: false }, tooltip: { enabled: false }, deco: { exp: xExponents[i] } },
      scales: {
        x: {
          type: 'linear', min: 0, max: xMaxes[i],
          afterFit: s => { s.height = PADB; },
          afterBuildTicks: s => { s.ticks = xt.map(v => ({value: v})); },
          grid: { display: false, drawTicks: false },
          border: { display: true, color: AXIS, width: 2.5 },
          ticks: { autoSkip: false, maxRotation: 0, padding: 15, color: TICKTXT, font: { size: 24 }, callback: v => String(v) },
          title: { display: true, text: xTitles[i], color: TITLETXT, font: { size: 30 }, padding: { top: 0, bottom: 38 } }
        },
        y: {
          type: 'linear', min: 0, max: yMaxes[i],
          afterFit: s => { s.width = PADL; },
          afterBuildTicks: s => { s.ticks = yt.map(v => ({value: v})); },
          grid: { display: false, drawTicks: false },
          border: { display: true, color: AXIS, width: 2.5 },
          ticks: { autoSkip: false, padding: 13, color: TICKTXT, font: { size: 24 }, callback: v => String(v) },
          title: { display: true, text: yLabel, color: TITLETXT, font: { size: 30 }, padding: { top: 29, bottom: 0 } }
        }
      }
    },
    plugins: [deco]
  });
}
</script>
</body></html>
